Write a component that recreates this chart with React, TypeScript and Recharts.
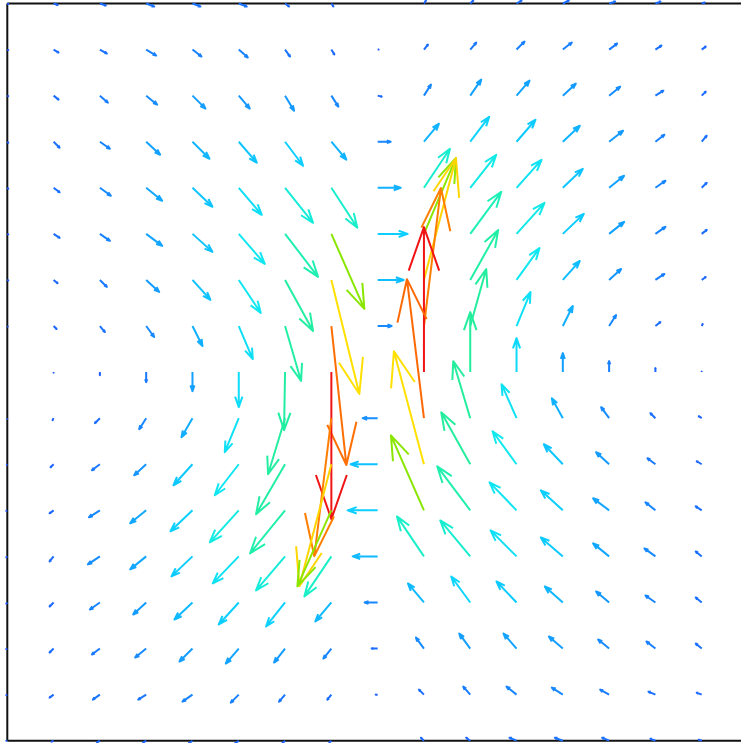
import { ScatterChart, Scatter, XAxis, YAxis, ReferenceLine } from 'recharts'

// grid: 16 columns (x = 0..15) and 17 rows (row 0 at the top)
const COLS = [0, 1, 2, 3, 4, 5, 6, 7, 8, 9, 10, 11, 12, 13, 14, 15]
const ROWS = [0, 1, 2, 3, 4, 5, 6, 7, 8, 9, 10, 11, 12, 13, 14, 15, 16]

// horizontal component, one list per row (top to bottom)
const U_ROWS: number[][] = [
  [1, 4, 6, 8, 8, 8, 4, 2, 0, 2, 3, 5, 6, 6, 5, 3],
  [1, 5, 7, 10, 9, 9, 5, 3, 1, 4, 6, 8, 9, 8, 6, 4],
  [1, 5, 8, 11, 13, 11, 9, 7, 4, 7, 11, 13, 13, 11, 8, 4],
  [1, 6, 10, 14, 17, 18, 18, 15, 13, 15, 19, 19, 17, 14, 9, 5],
  [1, 6, 11, 16, 20, 23, 28, 26, 23, 26, 26, 25, 20, 15, 10, 5],
  [1, 6, 10, 16, 20, 26, 33, 33, 30, 32, 31, 28, 21, 15, 10, 5],
  [1, 4, 7, 13, 18, 22, 28, 28, 26, 32, 28, 23, 17, 12, 9, 4],
  [0.5, 3, 5, 8, 10, 14, 16, 15, 14, 17, 16, 14, 10, 7, 5, 1],
  [0, 0, 0, 0, 0, 0, -1, 0, 0, 0, 0, 0, 0, 0, 0, 0],
  [0, -1, -5, -7, -11, -14, -17, -17, -15, -17, -17, -15, -11, -8, -5, -3],
  [-0.5, -3, -8, -12, -19, -24, -29, -32, -27, -30, -29, -24, -19, -13, -8, -5],
  [-1, -4, -11, -16, -22, -29, -35, -34, -30, -33, -33, -27, -22, -16, -10, -6],
  [-1, -4, -12, -16, -21, -26, -29, -27, -25, -27, -30, -26, -22, -16, -11, -6],
  [-1, -4, -10, -13, -18, -20, -19, -16, -13, -16, -19, -20, -18, -13, -10, -6],
  [-1, -4, -8, -11, -13, -13, -11, -8, -6, -8, -11, -13, -14, -11, -9, -6],
  [-1, -4, -7, -8, -10, -8, -6, -4, -2, -5, -7, -10, -11, -9, -7, -5],
  [-1, -2, -3, -3, -4, -4, -3, -2, 0, -3, -4, -7, -8, -7, -5, -3],
]

// vertical component (positive = up), one list per row (top to bottom)
const V_ROWS: number[][] = [
  [-0.5, -1.5, -2, -3, -3, -3, -3, -3, 0, 3, 3, 3, 3, 2, 2, 1],
  [-0.5, -3, -4, -6, -7, -8, -7, -5, 0, 5, 7, 8, 7, 6, 4, 3],
  [-0.5, -4, -7, -9, -13, -13, -15, -11, -1, 11, 16, 15, 12, 9, 5, 4],
  [-1, -6, -7, -13, -17, -21, -24, -18, 0, 18, 25, 22, 16, 11, 7, 6],
  [-1, -4.5, -8, -13, -19, -27, -35, -40, 0, 39, 33, 28, 19, 12, 7, 5],
  [-0.5, -4, -7, -12, -18, -30, -43, -75, 0, 76, 42, 31, 20, 12, 7, 4],
  [-0.5, -3.3, -7, -12, -20, -33, -51, -114, 0, 122, 50, 32, 19, 11, 6, 3],
  [-0.5, -3, -6, -11, -20, -33, -55, -139, 0, 138, 57, 34, 20, 11, 4, 2],
  [0, -0.5, -3, -10, -19, -35, -58, -147, 0, 145, 60, 34, 19, 11, 4, 0.5],
  [-0.5, -2, -5, -11, -19, -34, -56, -138, 0, 139, 57, 34, 20, 11, 5, 2],
  [-0.5, -3, -6, -11, -21, -31, -50, -122, 0, 113, 52, 33, 20, 12, 6, 3],
  [-0.5, -3, -7, -13, -21, -32, -43, -76, 0, 75, 44, 28, 20, 12, 8, 4],
  [-1, -5, -8, -13, -20, -27, -34, -40, 0, 40, 36, 26, 19, 13, 8, 5],
  [-1, -4, -7, -12, -17, -22, -24, -19, 0, 19, 26, 21, 16, 11, 7, 5],
  [-0.5, -4, -6, -9, -13, -15, -14, -10, 0, 11, 15, 15, 12, 9, 7, 5],
  [-0.5, -3, -5, -5, -7, -8, -7, -5, 0, 5, 8, 8, 7, 5, 3, 2],
  [0, -1, -2, -2, -3, -3, -3, -2, 0, 3, 3, 3, 3, 3, 2, 1],
]

// colour by speed (jet-like)
const COLOR_STOPS: [number, string][] = [
  [0, '#1f58ff'],
  [8, '#1a72ff'],
  [18, '#149cff'],
  [30, '#0ccfff'],
  [40, '#10e8f0'],
  [50, '#1cf0c0'],
  [60, '#24ee9c'],
  [82, '#8ae600'],
  [117, '#ffe000'],
  [127, '#ffd400'],
  [139, '#ff7f00'],
  [144, '#f01414'],
]

const ARROW_SCALE = 1
const HEAD_LEN = 0.3
const HEAD_WIDTH = 0.35

function hexToRgb(h: string) {
  const n = parseInt(h.slice(1), 16)
  return [(n >> 16) & 255, (n >> 8) & 255, n & 255]
}

function speedColor(m: number) {
  if (m <= COLOR_STOPS[0][0]) return COLOR_STOPS[0][1]
  for (let i = 1; i < COLOR_STOPS.length; i++) {
    const [m1, c1] = COLOR_STOPS[i]
    if (m <= m1) {
      const [m0, c0] = COLOR_STOPS[i - 1]
      const t = (m - m0) / (m1 - m0)
      const a = hexToRgb(c0)
      const b = hexToRgb(c1)
      const rgb = a.map((v, k) => Math.round(v + (b[k] - v) * t))
      return `rgb(${rgb.join(',')})`
    }
  }
  return COLOR_STOPS[COLOR_STOPS.length - 1][1]
}

const data = ROWS.flatMap((r) =>
  COLS.map((c) => ({
    x: c,
    y: ROWS.length - 1 - r,
    u: U_ROWS[r][c],
    v: V_ROWS[r][c],
  })),
)

function Arrow(props: any) {
  const { cx, cy, payload } = props
  const dx = payload.u * ARROW_SCALE
  const dy = -payload.v * ARROW_SCALE
  if (!dx && !dy) return <g />
  const hx = cx + dx
  const hy = cy + dy
  const b1x = hx - HEAD_LEN * (dx - HEAD_WIDTH * dy)
  const b1y = hy - HEAD_LEN * (dy + HEAD_WIDTH * dx)
  const b2x = hx - HEAD_LEN * (dx + HEAD_WIDTH * dy)
  const b2y = hy - HEAD_LEN * (dy - HEAD_WIDTH * dx)
  const color = speedColor(Math.hypot(payload.u, payload.v))
  return (
    <path
      d={`M${cx},${cy}L${hx},${hy}M${b1x},${b1y}L${hx},${hy}L${b2x},${b2y}`}
      stroke={color}
      strokeWidth={2}
      fill="none"
      strokeLinejoin="round"
    />
  )
}

export default function App() {
  return (
    <div style={{ position: 'absolute', left: 0, top: 0, width: 741, height: 743, overflow: 'hidden', background: '#fff' }}>
      <ScatterChart width={749} height={743} margin={{ top: 3.5, right: 1, bottom: 2.3, left: 7.3 }}>
        <XAxis type="number" dataKey="x" domain={[0, 16]} hide />
        <YAxis type="number" dataKey="y" domain={[0, 16]} hide />
        <ReferenceLine x={0} stroke="#111" strokeWidth={2} />
        <ReferenceLine y={16} stroke="#111" strokeWidth={2} />
        <ReferenceLine y={0} stroke="#111" strokeWidth={2} />
        <Scatter data={data} shape={Arrow} isAnimationActive={false} />
      </ScatterChart>
    </div>
  )
}
